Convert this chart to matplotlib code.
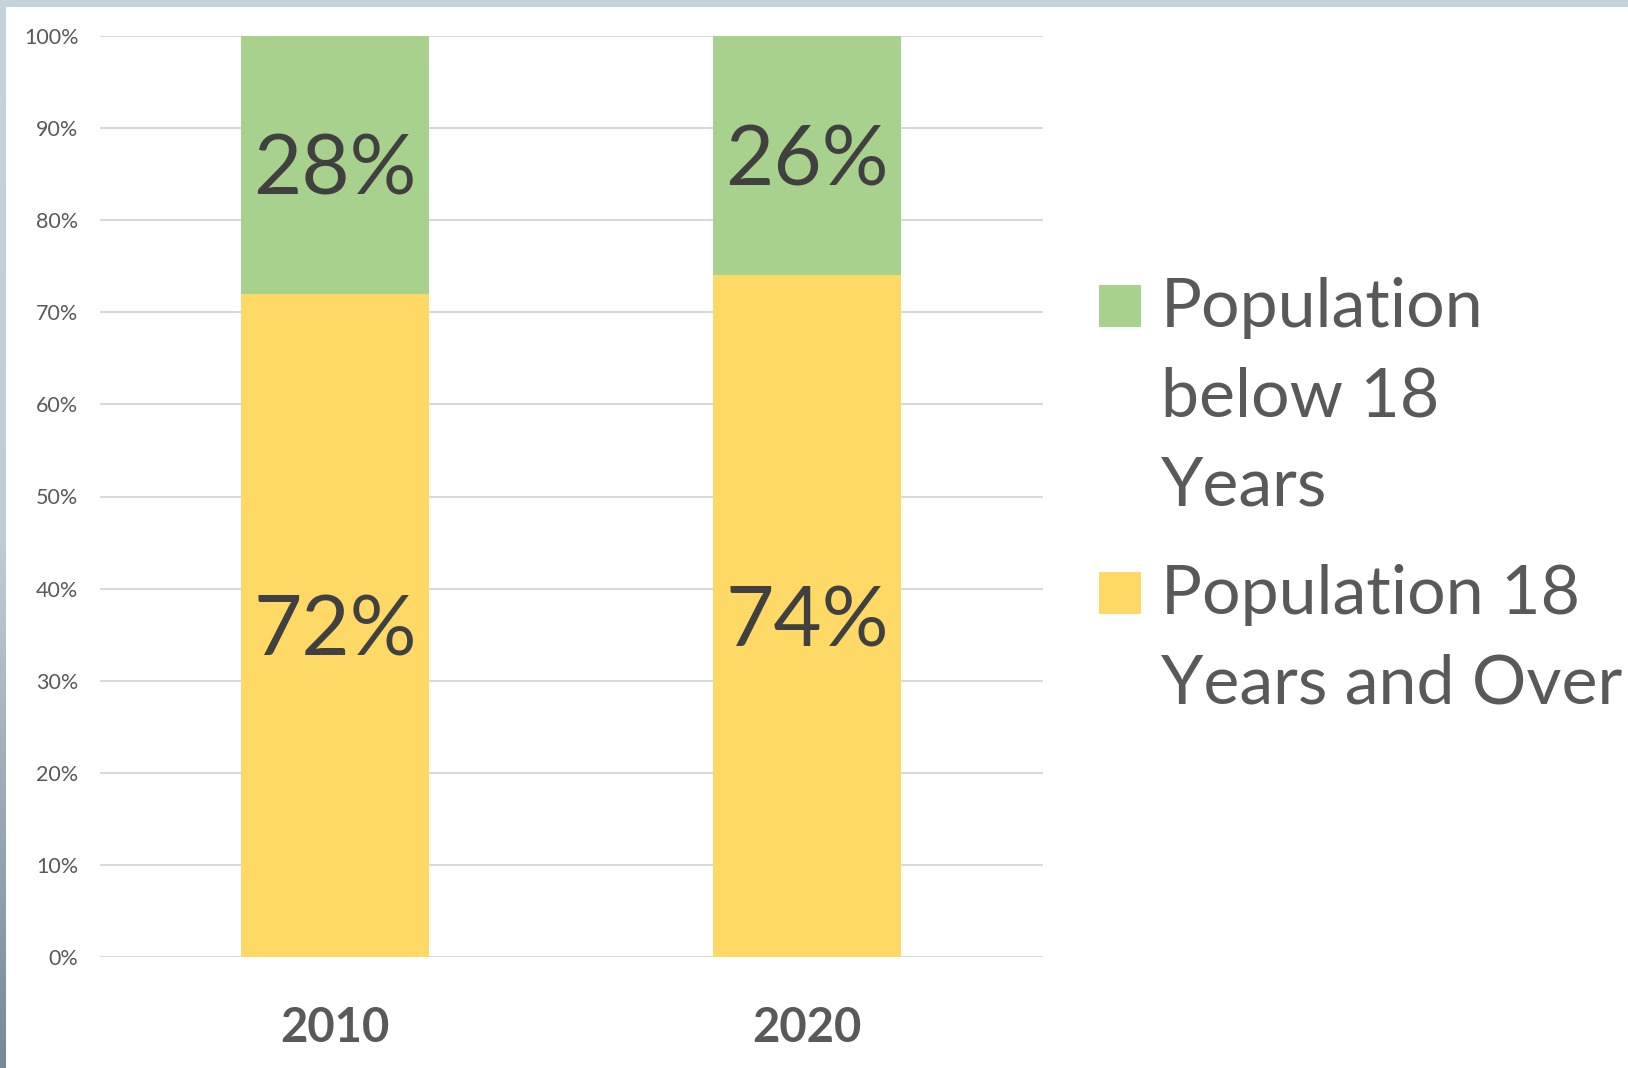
import matplotlib
matplotlib.use("Agg")
import matplotlib.pyplot as plt
import numpy as np
from matplotlib.patches import Rectangle
from matplotlib.colors import LinearSegmentedColormap

years = ["2010", "2020"]
below18 = [0.28, 0.26]
adults = [0.72, 0.74]
series_labels = ["Population\nbelow 18\nYears", "Population 18\nYears and Over"]
colors = ["#A9D18E", "#FFD966"]
yticks = [0, 0.1, 0.2, 0.3, 0.4, 0.5, 0.6, 0.7, 0.8, 0.9, 1.0]

plt.rcParams['font.family'] = ['Lato', 'DejaVu Sans']

W, H = 1628, 1068
fig = plt.figure(figsize=(W / 100, H / 100), dpi=100)
fig.patch.set_facecolor("white")

# frame strips
fig.patches.append(Rectangle((0, (H - 7) / H), 1, 7 / H, transform=fig.transFigure,
                             facecolor="#C5D3DA", edgecolor="none", zorder=0))
gax = fig.add_axes([0, 0, 6 / W, (H - 7) / H])
grad = np.linspace(0, 1, 256).reshape(-1, 1)
cmap = LinearSegmentedColormap.from_list("edge", ["#C5D3DA", "#BFCDD4", "#76899A"])
gax.imshow(grad, aspect="auto", cmap=cmap, extent=[0, 1, 0, 1], origin="upper")
gax.axis("off")

ax = fig.add_axes([100 / W, 111 / H, 943 / W, 921 / H])
x = np.arange(len(years))
width = 0.40
ax.bar(x, adults, width, color=colors[1], label=series_labels[1], zorder=2)
ax.bar(x, below18, width, bottom=adults, color=colors[0], label=series_labels[0], zorder=2)

lab_fs = 60
cap_off = -0.36 * lab_fs
for xi, a, b in zip(x, adults, below18):
    ax.annotate(f"{round(a * 100)}%", (xi, a / 2), xytext=(0, cap_off), textcoords="offset points",
                ha="center", va="baseline", fontsize=lab_fs, color="#404040", zorder=3)
    ax.annotate(f"{round(b * 100)}%", (xi, a + b / 2), xytext=(0, cap_off), textcoords="offset points",
                ha="center", va="baseline", fontsize=lab_fs, color="#404040", zorder=3)

ax.set_xlim(-0.498, 1.5)
ax.set_ylim(0, 1)
ax.set_yticks(yticks)
ax.set_yticklabels([f"{int(round(t * 100))}%" for t in yticks], fontsize=15.5, color="#595959")
ax.tick_params(axis="y", length=0, pad=15.5)
ax.set_xticks(x)
ax.set_xticklabels(years, fontsize=34, fontweight="bold", color="#595959")
ax.tick_params(axis="x", length=0, pad=51)
for lab in ax.get_xticklabels():
    lab.set_va("center")
ax.grid(axis="y", color="#D9D9D9", linewidth=1.5, zorder=0)
for s in ax.spines.values():
    s.set_visible(False)

# legend (drawn manually to keep the handle at the first line)
leg_items = [(series_labels[0], colors[0], 285), (series_labels[1], colors[1], 572)]
for text, col, ytop in leg_items:
    fig.patches.append(Rectangle((1099 / W, 1 - (ytop + 42) / H), 41.5 / W, 42 / H,
                                 transform=fig.transFigure, facecolor=col, edgecolor="none"))
    fig.text(1161 / W, 1 - (ytop - 8) / H, text, fontsize=49, color="#595959",
             ha="left", va="top", linespacing=1.55)

fig.savefig("out.png", dpi=100)
